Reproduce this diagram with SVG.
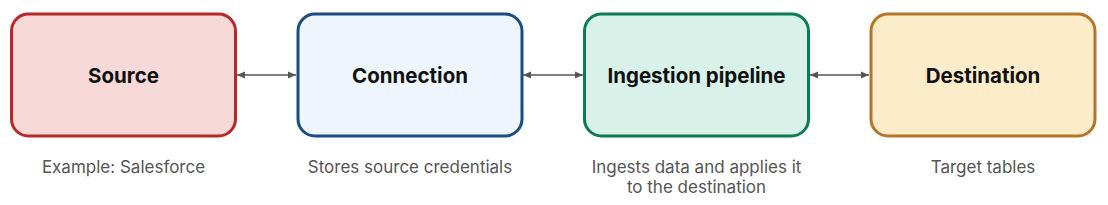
<svg xmlns="http://www.w3.org/2000/svg" width="1108" height="205" viewBox="0 0 1108 205">
<style>
.box{stroke-width:3}
.t{font-family:Inter,"Noto Sans",sans-serif;font-weight:700;font-size:20.5px;fill:#111;text-anchor:middle}
.s{font-family:Inter,"Noto Sans",sans-serif;font-size:17px;fill:#555;text-anchor:middle}
.c{stroke:#555;stroke-width:1.5;fill:none;marker-start:url(#a);marker-end:url(#a)}
</style>
<defs>
<marker id="a" viewBox="0 0 10 10" refX="10" refY="5" markerWidth="8" markerHeight="8" markerUnits="userSpaceOnUse" orient="auto-start-reverse">
<path d="M0,0.5 L10,5 L0,9.5 z" fill="#555"/>
</marker>
</defs>
<rect width="1108" height="205" fill="#fff"/>
<g id="connectors">
<line class="c" x1="237" y1="75" x2="296" y2="75"/>
<line class="c" x1="523" y1="75" x2="583" y2="75"/>
<line class="c" x1="810" y1="75" x2="869" y2="75"/>
</g>
<g id="source">
<rect class="box" x="11.5" y="14" width="224" height="122" rx="17" fill="#f7d9d8" stroke="#b8282a"/>
<text class="t" x="123.5" y="83">Source</text>
<text class="s" x="123.5" y="173">Example: Salesforce</text>
</g>
<g id="connection">
<rect class="box" x="298" y="14" width="224" height="122" rx="17" fill="#eef5fd" stroke="#1b4d85"/>
<text class="t" x="410" y="83">Connection</text>
<text class="s" x="410" y="173">Stores source credentials</text>
</g>
<g id="ingestion">
<rect class="box" x="584.5" y="14" width="224" height="122" rx="17" fill="#d8f1e9" stroke="#0b7d50"/>
<text class="t" x="696.5" y="83">Ingestion pipeline</text>
<text class="s" x="696.5" y="173">Ingests data and applies it</text>
<text class="s" x="696.5" y="193">to the destination</text>
</g>
<g id="destination">
<rect class="box" x="871" y="14" width="224" height="122" rx="17" fill="#fdecca" stroke="#b87428"/>
<text class="t" x="983" y="83">Destination</text>
<text class="s" x="983" y="173">Target tables</text>
</g>
</svg>
